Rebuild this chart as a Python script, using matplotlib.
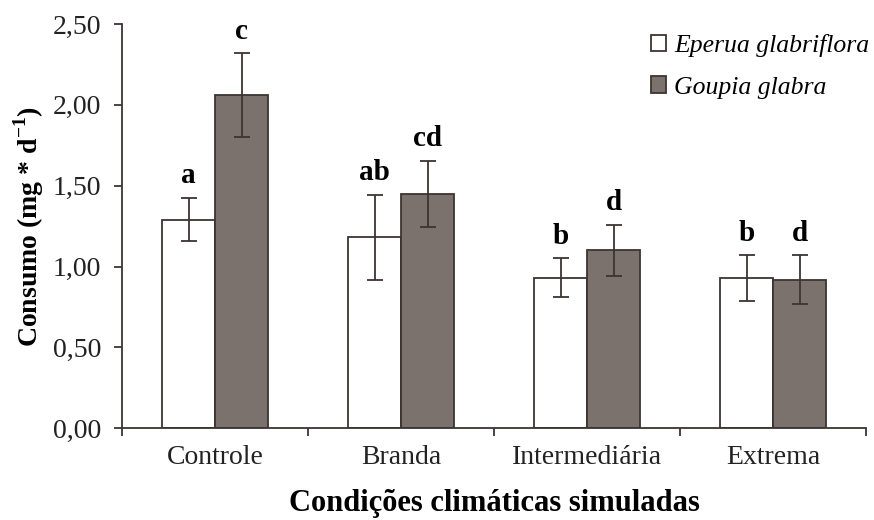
import numpy as np
import matplotlib
matplotlib.use("Agg")
import matplotlib.pyplot as plt
from matplotlib.ticker import FuncFormatter, FixedLocator

# ── Data ─────────────────────────────────────────────────────────────────────
categories = ["Controle", "Branda", "Intermediária", "Extrema"]
eperua_mean = [1.29, 1.18, 0.93, 0.93]
eperua_err = [0.135, 0.265, 0.12, 0.14]
goupia_mean = [2.06, 1.45, 1.10, 0.92]
goupia_err = [0.26, 0.205, 0.16, 0.15]
eperua_letters = ["a", "ab", "b", "b"]
goupia_letters = ["c", "cd", "d", "d"]

# ── Style ────────────────────────────────────────────────────────────────────
plt.rcParams["font.family"] = ["Liberation Serif", "DejaVu Serif"]
plt.rcParams["mathtext.fontset"] = "custom"
plt.rcParams["mathtext.rm"] = "Liberation Serif"
plt.rcParams["mathtext.bf"] = "Liberation Serif:bold"

EDGE = "#3b3431"
GREY = "#7b726d"

fig = plt.figure(figsize=(8.74, 5.2), dpi=100)
ax = fig.add_axes([0.1396, 0.1763, 0.8514, 0.7777])

x = np.arange(len(categories))
w = 0.285
err_kw = dict(ecolor=EDGE, elinewidth=1.3, capsize=6, capthick=1.3)

ax.bar(x - w / 2, eperua_mean, w, yerr=eperua_err, color="white",
       edgecolor=EDGE, linewidth=1.3, error_kw=err_kw, label="Eperua glabriflora")
ax.bar(x + w / 2, goupia_mean, w, yerr=goupia_err, color=GREY,
       edgecolor=EDGE, linewidth=1.3, error_kw=err_kw, label="Goupia glabra")

# significance letters above error bars
for xi, m, e, t in zip(x - w / 2, eperua_mean, eperua_err, eperua_letters):
    ax.annotate(t, xy=(xi, m + e), xytext=(0, 6), textcoords="offset points",
                ha="center", va="bottom", fontsize=21, fontweight="bold")
for xi, m, e, t in zip(x + w / 2, goupia_mean, goupia_err, goupia_letters):
    ax.annotate(t, xy=(xi, m + e), xytext=(0, 6), textcoords="offset points",
                ha="center", va="bottom", fontsize=21, fontweight="bold")

# ── Axes ─────────────────────────────────────────────────────────────────────
ax.set_xlim(-0.5, len(categories) - 0.5)
ax.set_ylim(0, 2.5)
ax.set_yticks(np.arange(0, 2.51, 0.5))
ax.yaxis.set_major_formatter(FuncFormatter(lambda v, p: f"{v:.2f}".replace(".", ",")))
ax.set_xticks(x)
ax.set_xticklabels(categories)
ax.xaxis.set_minor_locator(FixedLocator(np.arange(-0.5, len(categories), 1.0)))

ax.tick_params(axis="x", which="major", length=0, pad=12, labelsize=20, colors="#222222")
ax.tick_params(axis="x", which="minor", length=6, width=1.3, color=EDGE, direction="out")
ax.tick_params(axis="y", length=6, width=1.3, color=EDGE, pad=9, labelsize=20,
               labelcolor="#222222")

for s in ["top", "right"]:
    ax.spines[s].set_visible(False)
for s in ["left", "bottom"]:
    ax.spines[s].set_color(EDGE)
    ax.spines[s].set_linewidth(1.3)

ax.set_ylabel(r"Consumo (mg * d$^{\mathbf{-1}}$)", fontsize=20, fontweight="bold", labelpad=5)
ax.set_xlabel("Condições climáticas simuladas", fontsize=22, fontweight="bold", labelpad=14)

ax.legend(loc="upper right", bbox_to_anchor=(1.004, 0.975), frameon=False,
          prop={"style": "italic", "size": 18.5}, handlelength=0.6, handleheight=0.6,
          handletextpad=0.3, labelspacing=0.75, borderaxespad=0, borderpad=0)

plt.savefig("out.png", dpi=100)
plt.close()
